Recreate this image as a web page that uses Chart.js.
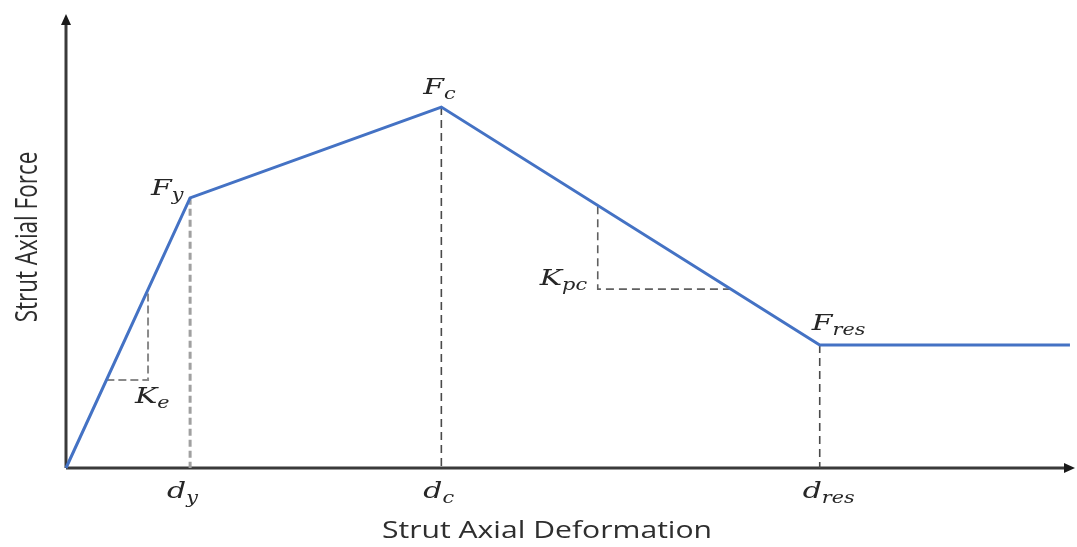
<!DOCTYPE html>
<html>
<head>
<meta charset="utf-8">
<script src="https://cdn.jsdelivr.net/npm/chart.js@4/dist/chart.umd.min.js"></script>
<style>
  html, body { margin: 0; padding: 0; background: #fff; }
  #wrap { width: 1077px; height: 547px; }
</style>
</head>
<body>
<div id="wrap"><canvas id="myChart"></canvas></div>
<script>
// backbone curve of the strut (arbitrary units)
const deformation = [0, 12.3, 37.2, 74.7, 99.5];
const axialForce = [0, 59.5, 79.5, 27.1, 27.1];
// subscripts of the characteristic points (index into the curve)
const keyPoints = [1, 2, 3];
const keySubs = ["y", "c", "res"];
// stiffness triangles
const keX = [4.0, 8.13, 8.13];
const keY = [19.4, 19.4, 39.2];
const kpcX = [65.9, 52.7, 52.7];
const kpcY = [39.4, 39.4, 57.8];
const xTitle = "Strut Axial Deformation";
const yTitle = "Strut Axial Force";

const pts = (xs, ys) => xs.map((x, i) => ({ x: x, y: ys[i] }));
const drop = i => [{ x: deformation[i], y: axialForce[i] }, { x: deformation[i], y: 0 }];

const MAIN_FONT = "italic 23px 'DejaVu Serif'";
const SUB_FONT = "italic 16px 'DejaVu Serif'";
const STRETCH = 1.3; // the original figure is drawn wide

function mathLabel(ctx, main, sub, x, y) {
  ctx.save();
  ctx.translate(x, y);
  ctx.scale(STRETCH, 1);
  ctx.font = MAIN_FONT;
  ctx.fillText(main, 0, 0);
  const w = ctx.measureText(main).width;
  ctx.font = SUB_FONT;
  ctx.fillText(sub, w, 5);
  ctx.restore();
}

const schematic = {
  id: "schematic",
  beforeDatasetsDraw(chart) {
    const { ctx, chartArea: a } = chart;
    const x0 = chart.scales.x.getPixelForValue(0);
    const y0 = chart.scales.y.getPixelForValue(0);
    ctx.save();
    ctx.strokeStyle = "#3a3a3a";
    ctx.fillStyle = "#1a1a1a";
    ctx.lineWidth = 3;
    ctx.beginPath();
    ctx.moveTo(x0, y0);
    ctx.lineTo(a.right - 8, y0);
    ctx.moveTo(x0, y0);
    ctx.lineTo(x0, a.top + 8);
    ctx.stroke();
    // arrow heads
    ctx.beginPath();
    ctx.moveTo(a.right, y0);
    ctx.lineTo(a.right - 11, y0 - 5);
    ctx.lineTo(a.right - 11, y0 + 5);
    ctx.closePath();
    ctx.fill();
    ctx.beginPath();
    ctx.moveTo(x0, a.top);
    ctx.lineTo(x0 - 5, a.top + 11);
    ctx.lineTo(x0 + 5, a.top + 11);
    ctx.closePath();
    ctx.fill();
    ctx.restore();
  },
  afterDatasetsDraw(chart) {
    const { ctx } = chart;
    const sx = chart.scales.x, sy = chart.scales.y;
    ctx.save();
    ctx.fillStyle = "#262626";
    ctx.textBaseline = "alphabetic";
    // force labels above the points, deformation labels below the axis
    const fOff = [[-39, -3], [-18, -13], [-8, -15]];
    const dOff = [[-23, 30], [-18, 30], [-17, 30]];
    keyPoints.forEach((p, i) => {
      const px = sx.getPixelForValue(deformation[p]);
      const py = sy.getPixelForValue(axialForce[p]);
      const y0 = sy.getPixelForValue(0);
      mathLabel(ctx, "F", keySubs[i], px + fOff[i][0], py + fOff[i][1]);
      mathLabel(ctx, "d", keySubs[i], px + dOff[i][0], y0 + dOff[i][1]);
    });
    // stiffness labels
    mathLabel(ctx, "K", "e", sx.getPixelForValue(keX[1]) - 13, sy.getPixelForValue(keY[1]) + 23);
    mathLabel(ctx, "K", "pc", sx.getPixelForValue(kpcX[1]) - 58, sy.getPixelForValue(kpcY[1]) - 4);
    ctx.restore();

    // axis titles
    ctx.save();
    ctx.fillStyle = "#2e2e2e";
    ctx.textAlign = "center";
    ctx.font = "23px 'Open Sans'";
    ctx.translate(547, 538);
    ctx.scale(1.31, 1);
    ctx.fillText(xTitle, 0, 0);
    ctx.restore();

    ctx.save();
    ctx.fillStyle = "#2e2e2e";
    ctx.textAlign = "center";
    ctx.font = "22.5px 'Open Sans'";
    ctx.translate(37, 237);
    ctx.scale(1.37, 1);
    ctx.rotate(-Math.PI / 2);
    ctx.fillText(yTitle, 0, 0);
    ctx.restore();
  }
};

const dashed = (data, color, width, dash) => ({
  data: data, showLine: true, borderColor: color, borderWidth: width,
  borderDash: dash, pointRadius: 0, fill: false
});

new Chart(document.getElementById("myChart"), {
  type: "scatter",
  data: {
    datasets: [
      {
        data: pts(deformation, axialForce),
        showLine: true, borderColor: "#4472C4", borderWidth: 3,
        pointRadius: 0, fill: false
      },
      dashed(drop(1), "#a0a0a0", 3, [7, 4]),
      dashed(drop(2), "#4a4a4a", 1.6, [8, 5]),
      dashed(drop(3), "#4a4a4a", 1.6, [8, 5]),
      dashed(pts(keX, keY), "#8a8a8a", 2, [8, 4]),
      dashed(pts(kpcX, kpcY), "#606060", 1.6, [8, 5])
    ]
  },
  options: {
    responsive: true,
    maintainAspectRatio: false,
    animation: false,
    clip: false,
    layout: { padding: { left: 66, top: 14, right: 2, bottom: 79 } },
    scales: {
      x: { type: "linear", min: 0, max: 100, display: false },
      y: { type: "linear", min: 0, max: 100, display: false }
    },
    plugins: { legend: { display: false }, tooltip: { enabled: false } }
  },
  plugins: [schematic]
});
</script>
</body>
</html>
